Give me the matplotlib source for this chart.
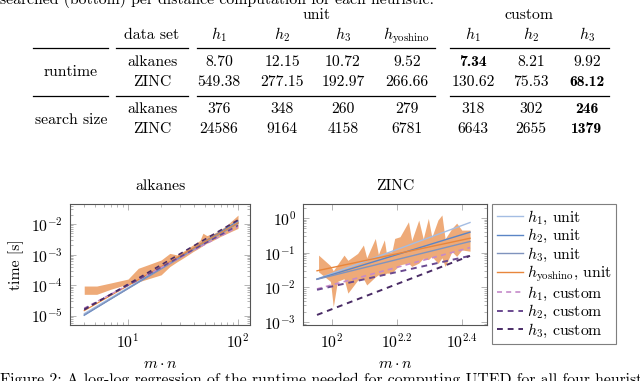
import numpy as np
import matplotlib
matplotlib.use("Agg")
import matplotlib.pyplot as plt
from matplotlib.lines import Line2D
from matplotlib.ticker import FixedLocator, FixedFormatter, NullLocator, LogLocator, NullFormatter

plt.rcParams["font.family"] = ["cmr10", "DejaVu Serif"]
plt.rcParams["mathtext.fontset"] = "cm"
plt.rcParams["axes.formatter.use_mathtext"] = True
plt.rcParams["font.size"] = 11.3

# ---- table data ----
datasets = ["alkanes", "ZINC"]
unit_heads = [r"$h_1$", r"$h_2$", r"$h_3$", r"$h_{\mathrm{yoshino}}$"]
custom_heads = [r"$h_1$", r"$h_2$", r"$h_3$"]
runtime_alkanes = [8.70, 12.15, 10.72, 9.52, 7.34, 8.21, 9.92]
runtime_zinc = [549.38, 277.15, 192.97, 266.66, 130.62, 75.53, 68.12]
search_alkanes = [376, 348, 260, 279, 318, 302, 246]
search_zinc = [24586, 9164, 4158, 6781, 6643, 2655, 1379]

# ---- plot data ----
labels = [r"$h_1$, unit", r"$h_2$, unit", r"$h_3$, unit", r"$h_{\mathrm{yoshino}}$, unit",
          r"$h_1$, custom", r"$h_2$, custom", r"$h_3$, custom"]

alk_band_x = [4, 5.2, 7, 10, 12.4, 15, 20, 24, 28, 33, 39, 45, 48, 52, 60, 69, 80, 100]
alk_band_hi = [9.5e-5, 9.5e-5, 1.2e-4, 1.6e-4, 3.6e-4, 4.6e-4, 6.7e-4, 1.1e-3, 9.8e-4, 1.4e-3,
               2.1e-3, 2.9e-3, 5.0e-3, 4.2e-3, 4.9e-3, 6.4e-3, 9.5e-3, 1.95e-2]
alk_band_lo = [5.1e-5, 5.1e-5, 7.5e-5, 1.1e-4, 1.3e-4, 1.6e-4, 2.2e-4, 4.1e-4, 5.9e-4, 8.5e-4,
               1.26e-3, 1.7e-3, 2.0e-3, 2.35e-3, 3.0e-3, 3.9e-3, 5.0e-3, 7.2e-3]
alk_fit_x = [4, 100]
alk_fit_start = [1.2e-5, 1.05e-5, 1.1e-5, 1.5e-5, 1.8e-5, 1.7e-5, 1.6e-5]
alk_fit_end = [1.15e-2, 1.25e-2, 1.05e-2, 1.1e-2, 8.0e-3, 9.0e-3, 1.35e-2]

zinc_band_x = [91, 99, 101, 104, 109, 112, 120, 125, 128, 136, 139, 145, 147, 153, 156, 162,
               172, 176, 185, 191, 198, 203, 212, 218, 223, 234, 242, 251, 266]
zinc_band_hi = [0.085, 0.042, 0.030, 0.045, 0.085, 0.060, 0.095, 0.166, 0.071, 0.257, 0.089,
                0.234, 0.100, 0.107, 0.257, 0.288, 0.776, 0.224, 0.870, 0.251, 0.977, 0.282,
                0.875, 1.22, 0.251, 0.50, 0.71, 0.447, 0.447]
zinc_band_lo = [0.028, 0.0148, 0.00275, 0.0148, 0.0178, 0.0068, 0.016, 0.0178, 0.0117, 0.020,
                0.023, 0.0224, 0.0257, 0.0257, 0.0316, 0.0447, 0.050, 0.040, 0.050, 0.069,
                0.063, 0.078, 0.049, 0.071, 0.040, 0.107, 0.078, 0.12, 0.11]
zinc_fit_x = [90, 266]
zinc_fit_start = [0.0174, 0.0172, 0.0170, 0.030, 0.009, 0.0085, 0.0016]
zinc_fit_end = [0.74, 0.39, 0.21, 0.26, 0.14, 0.081, 0.081]

colors = ["#a4bde3", "#5b85c6", "#7f93bd", "#e8863c", "#c58ac9", "#6a4a90", "#4a2c66"]
styles = ["-", "-", "-", "-", (0, (3, 2.5)), (0, (3, 2.5)), (0, (3, 2.5))]
widths = [1.0, 1.0, 1.0, 1.0, 1.2, 1.4, 1.4]
band_color = "#eeaa78"

W, H = 640, 381
fig = plt.figure(figsize=(6.4, 3.81), dpi=100)


def fx(px):
    return px / W


def fy(py):
    return 1 - py / H


# ---- captions (cut off by the page crop) ----
fig.text(fx(0), fy(4), "searched (bottom) per distance computation for each heuristic.",
         ha="left", va="baseline")
fig.text(fx(0), fy(384), "Figure 2: A log-log regression of the runtime needed for computing "
         "UTED for all four heuristics", ha="left", va="baseline")

# ---- table ----
col_x = [219, 282, 343, 407, 473, 531, 587]
fig.text(fx(316), fy(19.3), "unit", ha="center", va="baseline")
fig.text(fx(529), fy(19.3), "custom", ha="center", va="baseline")
fig.text(fx(152), fy(39), "data set", ha="center", va="baseline")
for x, h in zip(col_x, unit_heads + custom_heads):
    fig.text(fx(x), fy(39), h, ha="center", va="baseline")

for y in [47.7, 95.7]:
    for x0, x1 in [(33, 108), (116, 188), (197, 435), (450, 609)]:
        fig.add_artist(Line2D([fx(x0), fx(x1)], [fy(y), fy(y)], color="black", lw=0.9))

groups = [("runtime", [runtime_alkanes, runtime_zinc], "{:.2f}", 76, [66, 86]),
          ("search size", [search_alkanes, search_zinc], "{:d}", 123.5, [113, 133])]
for name, rows, fmt, gy, rys in groups:
    fig.text(fx(71), fy(gy), name, ha="center", va="baseline")
    for ds, vals, ry in zip(datasets, rows, rys):
        fig.text(fx(152), fy(ry), ds, ha="center", va="baseline")
        best = min(vals)
        for x, v in zip(col_x, vals):
            fam = "cmb10" if v == best else "cmr10"
            fig.text(fx(x), fy(ry), fmt.format(v), ha="center", va="baseline", family=fam)

# ---- plots ----
ax1 = fig.add_axes([fx(70), fy(325), 180 / W, 121 / H])
ax2 = fig.add_axes([fx(303), fy(325), 184 / W, 121 / H])

ax1.fill_between(alk_band_x, alk_band_lo, alk_band_hi, color=band_color, lw=0, zorder=1)
for i in range(len(labels)):
    ax1.plot(alk_fit_x, [alk_fit_start[i], alk_fit_end[i]], color=colors[i],
             ls=styles[i], lw=widths[i] * 0.85, zorder=2)

ax2.fill_between(zinc_band_x, zinc_band_lo, zinc_band_hi, color=band_color, lw=0, zorder=1)
handles = []
for i in range(len(labels)):
    ln, = ax2.plot(zinc_fit_x, [zinc_fit_start[i], zinc_fit_end[i]], color=colors[i],
                   ls=styles[i], lw=widths[i], zorder=2)
    handles.append(ln)

for ax in (ax1, ax2):
    ax.set_xscale("log")
    ax.set_yscale("log")
    ax.yaxis.set_major_locator(LogLocator(base=10, numticks=15))
    ax.yaxis.set_minor_locator(LogLocator(base=10, subs=np.arange(2, 10), numticks=15))
    ax.yaxis.set_minor_formatter(NullFormatter())
    ax.tick_params(which="both", direction="in", top=True, right=True, color="#a8a8a8",
                   width=0.6, labelsize=11.3, pad=5)
    ax.tick_params(which="major", length=4)
    ax.tick_params(which="minor", length=2)
    for sp in ax.spines.values():
        sp.set_color("#555555")
        sp.set_linewidth(0.8)
    ax.set_xlabel(r"$m \cdot n$", labelpad=5)

ax1.set_xlim(2.97, 128.5)
ax1.set_ylim(5.1e-6, 0.0449)
ax1.xaxis.set_minor_locator(LogLocator(base=10, subs=np.arange(2, 10), numticks=15))
ax1.xaxis.set_minor_formatter(NullFormatter())
ax1.set_title("alkanes", pad=10, fontsize=11.3)
ax1.set_ylabel("time [s]", labelpad=5)

ax2.set_xlim(81.5, 300)
ax2.set_ylim(8.2e-4, 2.53)
ax2.xaxis.set_major_locator(FixedLocator([100, 10 ** 2.2, 10 ** 2.4]))
ax2.xaxis.set_major_formatter(FixedFormatter([r"$10^{2}$", r"$10^{2.2}$", r"$10^{2.4}$"]))
ax2.xaxis.set_minor_locator(NullLocator())
ax2.set_title("ZINC", pad=10, fontsize=11.3)

leg = fig.legend(handles, labels, loc="upper left", bbox_to_anchor=(fx(492), fy(204)),
                 bbox_transform=fig.transFigure, borderaxespad=0, fancybox=False,
                 edgecolor="#7f7f7f", framealpha=1, handlelength=1.7, handletextpad=0.2,
                 labelspacing=0.02, borderpad=0.3, fontsize=11.3)
leg.get_frame().set_linewidth(0.8)

fig.savefig("out.png", dpi=100)
